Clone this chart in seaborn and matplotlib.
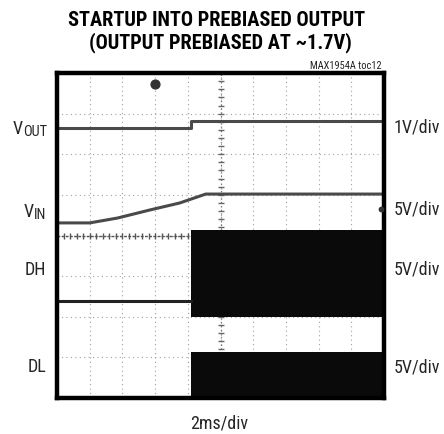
import numpy as np
import pandas as pd
import matplotlib
matplotlib.use("Agg")
import matplotlib.pyplot as plt
import seaborn as sns

# scope traces, x in ms (2ms/div), y in screen divisions (0 = bottom, 8 = top)
vout_t = [0.0, 8.2, 8.2, 20.0]
vout_y = [6.65, 6.65, 6.82, 6.82]

vin_t = [0.0, 2.0, 3.7, 5.7, 7.5, 9.1, 20.0]
vin_y = [4.31, 4.31, 4.43, 4.63, 4.80, 5.02, 5.02]

dh_low_t = [0.0, 8.2]
dh_low_y = [2.38, 2.38]
dh_sw_t = [8.2, 20.0]
dh_sw_lo = [2.0, 2.0]
dh_sw_hi = [4.14, 4.14]

dl_sw_t = [8.2, 20.0]
dl_sw_lo = [0.0, 0.0]
dl_sw_hi = [1.13, 1.13]

channels = ["VOUT", "VIN", "DH", "DL"]
scales = ["1V/div", "5V/div", "5V/div", "5V/div"]

sns.set_style("white")
plt.rcParams["font.family"] = ["Roboto Condensed", "DejaVu Sans"]

W, H = 444, 434
fig = plt.figure(figsize=(W / 100, H / 100), dpi=100)
ax = fig.add_axes([57 / W, 1 - 398 / H, 327 / W, 325 / H])
ax.set_xlim(0, 20)
ax.set_ylim(0, 8)

# graticule
for gx in np.arange(2, 20, 2):
    ax.axvline(gx, color="#a0a0a0", lw=0.8, ls=(0, (1, 3)), zorder=0)
for gy in np.arange(1, 8, 1):
    ax.axhline(gy, color="#a0a0a0", lw=0.8, ls=(0, (1, 3)), zorder=0)
ax.axvline(10, color="#777777", lw=0.9, ls=(0, (1, 2)), zorder=0)
ax.axhline(4, color="#555555", lw=1.0, ls=(0, (2, 1)), zorder=0)
ax.plot(np.full(41, 10.0), np.linspace(0, 8, 41), ls="none", marker="_",
        ms=4, mew=1, color="#666666", zorder=0)
ax.plot(np.linspace(0, 20, 51), np.full(51, 4.0), ls="none", marker="|",
        ms=4, mew=1, color="#555555", zorder=0)

trace = "#4a4a4a"
sns.lineplot(x=vout_t, y=vout_y, ax=ax, color=trace, lw=2.2, sort=False, estimator=None)
sns.lineplot(x=vin_t, y=vin_y, ax=ax, color=trace, lw=2.2, sort=False, estimator=None)
sns.lineplot(x=dh_low_t, y=dh_low_y, ax=ax, color="#222222", lw=2.2, sort=False, estimator=None)
ax.fill_between(dh_sw_t, dh_sw_lo, dh_sw_hi, color="#0a0a0a", lw=0)
ax.fill_between(dl_sw_t, dl_sw_lo, dl_sw_hi, color="#0a0a0a", lw=0)

# trigger / level markers
ax.scatter([6.0], [7.72], s=40, color="#333333", zorder=5, clip_on=False)
ax.scatter([19.8], [4.66], s=10, color="#333333", zorder=5, clip_on=False)

ax.set_xticks([])
ax.set_yticks([])
ax.set_xlabel("")
ax.set_ylabel("")
for s in ax.spines.values():
    s.set_visible(True)
    s.set_color("black")
    s.set_linewidth(3.2)

def px(x, y):
    return x / W, 1 - y / H

fig.text(*px(217, 20), "STARTUP INTO PREBIASED OUTPUT", ha="center", va="center",
         fontsize=14.7, fontweight="bold", color="black")
fig.text(*px(220, 43), "(OUTPUT PREBIASED AT ~1.7V)", ha="center", va="center",
         fontsize=14.7, fontweight="bold", color="black")
fig.text(*px(382, 66), "MAX1954A toc12", ha="right", va="center",
         fontsize=7.5, color="#222222")

lab = 13
# left channel names (subscripts drawn as smaller, lowered text)
fig.text(*px(13, 129), "V", ha="left", va="center", fontsize=lab)
fig.text(*px(23, 132), "OUT", ha="left", va="center", fontsize=lab * 0.8)
fig.text(*px(24, 212), "V", ha="left", va="center", fontsize=lab)
fig.text(*px(34, 215), "IN", ha="left", va="center", fontsize=lab * 0.8)
fig.text(*px(46, 270), channels[2], ha="right", va="center", fontsize=lab)
fig.text(*px(46, 367), channels[3], ha="right", va="center", fontsize=lab)

for yy, s in zip([128, 210, 270, 367], scales):
    fig.text(*px(394, yy), s, ha="left", va="center", fontsize=lab)

fig.text(*px(219, 423), "2ms/div", ha="center", va="center", fontsize=lab)

fig.savefig("out.png", dpi=100, facecolor="white")
